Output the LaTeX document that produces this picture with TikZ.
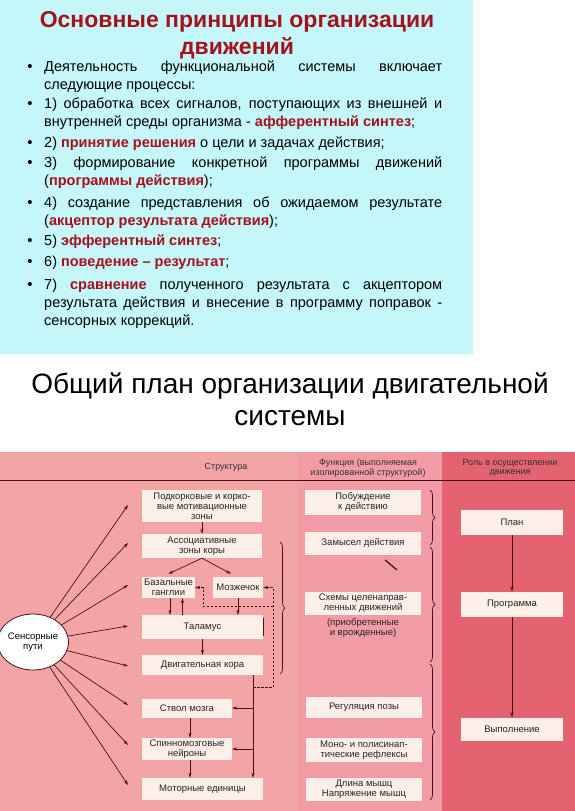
\documentclass[tikz,border=0pt]{standalone}
\usepackage{fontspec}
\setmainfont{Liberation Sans}
\usetikzlibrary{arrows.meta,shapes.geometric,decorations.pathreplacing}

\definecolor{panelcyan}{RGB}{197,246,250}
\definecolor{titlered}{RGB}{165,18,28}
\definecolor{colone}{RGB}{243,165,165}
\definecolor{coltwo}{RGB}{241,155,165}
\definecolor{colthree}{RGB}{229,98,112}
\definecolor{boxfill}{RGB}{252,238,232}
\definecolor{ink}{RGB}{70,18,22}

\newcommand{\redb}[1]{\textcolor{titlered}{\textbf{#1}}}
\hyphenpenalty=10000

\begin{document}
\begin{tikzpicture}[x=1pt,y=-1pt,
	box/.style={fill=boxfill, inner sep=0pt, align=center, text=black!85,
		font=\fontsize{9.5}{10}\selectfont},
	hdr/.style={inner sep=0pt, align=center, text=black!80,
		font=\fontsize{9}{9.5}\selectfont},
	arr/.style={draw=ink, line width=0.7pt, -{Stealth[length=5pt,width=3.2pt]}},
	fback/.style={arr, dash pattern=on 2.5pt off 1.5pt},
	curly/.style={draw=ink, line width=0.7pt, decorate, decoration={brace,amplitude=5pt}},
	item/.style={anchor=north west, inner sep=0pt, text width=398pt, align=justify,
		font=\fontsize{14.5}{18}\selectfont},
	dot/.style={inner sep=0pt, font=\fontsize{15}{15}\selectfont}]

	\useasboundingbox (0,0) rectangle (575,811);

	% upper panel
	\fill[panelcyan] (0,0) rectangle (473,354);
	\node[align=center, text=titlered, font=\bfseries\fontsize{23}{27}\selectfont] (title) at (237,35)
		{Основные принципы организации\\движений};

	\foreach \y in {68,105,144,164,204,242,263,286}{% one bullet per item
		\node[dot] (b\y) at (30,\y) {•};
	}
	\node[item] (p0) at (44,61) {Деятельность функциональной системы включает\linebreak следующие процессы:};
	\node[item] (p1) at (44,98) {1) обработка всех сигналов, поступающих из внешней и\linebreak внутренней среды организма - \redb{афферентный синтез};};
	\node[item] (p2) at (44,137) {2) \redb{принятие решения} о цели и задачах действия;};
	\node[item] (p3) at (44,157) {3) формирование конкретной программы движений\linebreak (\redb{программы действия});};
	\node[item] (p4) at (44,197) {4) создание представления об ожидаемом результате\linebreak (\redb{акцептор результата действия});};
	\node[item] (p5) at (44,235) {5) \redb{эфферентный синтез};};
	\node[item] (p6) at (44,256) {6) \redb{поведение – результат};};
	\node[item] (p7) at (44,279) {7) \redb{сравнение} полученного результата с акцептором\linebreak результата действия и внесение в программу поправок -\linebreak сенсорных коррекций.};

	% second title
	\node[align=center, font=\fontsize{28}{32}\selectfont] (plantitle) at (290,399)
		{Общий план организации двигательной\\системы};

	% the three columns of the scheme
	\fill[colone] (0,452) rectangle (297,811);
	\fill[coltwo] (297,452) rectangle (442,811);
	\fill[colthree] (442,452) rectangle (575,811);
	\draw[ink, line width=0.8pt] (0,480) -- (575,480);
	\node[hdr] (h1) at (226,467) {Структура};
	\node[hdr] (h2) at (368,468) {Функция (выполняемая\\изолированной структурой)};
	\node[hdr] (h3) at (510,468) {Роль в осуществлении\\движения};

	% structure
	\node[box, minimum width=120pt, minimum height=32pt] (podk) at (202,506) {Подкорковые и корко-\\вые мотивационные\\зоны};
	\node[box, minimum width=120pt, minimum height=24pt] (assoc) at (202,546) {Ассоциативные\\зоны коры};
	\node[box, minimum width=53pt, minimum height=21pt] (bazal) at (168.5,587.5) {Базальные\\ганглии};
	\node[box, minimum width=50pt, minimum height=21pt] (mozz) at (238,587.5) {Мозжечок};
	\node[box, minimum width=121pt, minimum height=24pt] (talam) at (202.5,627) {Таламус};
	\node[box, minimum width=121pt, minimum height=20pt] (motor) at (202.5,665) {Двигательная кора};
	\node[box, minimum width=90pt, minimum height=19pt] (stvol) at (187,708) {Ствол мозга};
	\node[box, minimum width=90pt, minimum height=22pt] (spinal) at (187,749) {Спинномозговые\\нейроны};
	\node[box, minimum width=121pt, minimum height=22pt] (units) at (202.5,789) {Моторные единицы};

	\node[ellipse, draw=ink, fill=white, line width=0.8pt, minimum width=66pt, minimum height=56pt,
		inner sep=0pt, align=center, font=\fontsize{9.5}{10.5}\selectfont] (sens) at (33,642) {Сенсорные\\пути};
	\foreach \y [count=\i] in {505,543,585,626,666,705,745,785}{% sensory inputs
		\coordinate (s\i) at (128,\y);
		\draw[arr] (sens) -- (s\i);
	}

	\draw[arr] (podk) -- (assoc);
	\draw[arr] (assoc.south) -- ([yshift=3pt]bazal.north);
	\draw[arr] (assoc.south) -- ([xshift=-7pt,yshift=3pt]mozz.north);
	\draw[arr] ([xshift=1.5pt]bazal.south) -- ([xshift=1.5pt]bazal.south |- talam.north);
	\draw[arr] ([xshift=14pt]bazal.south |- talam.north) -- ([xshift=14pt]bazal.south);
	\draw[arr] (mozz.south) -- (mozz.south |- talam.north);
	\draw[arr] (talam) -- (motor);
	\draw[ink, line width=0.9pt] ([yshift=-3pt]talam.north east) -- ([yshift=3pt]talam.south east);
	\draw[arr] ([xshift=3pt]stvol.south) -- ([xshift=3pt]stvol.south |- spinal.north);
	\draw[arr] ([xshift=3pt]spinal.south) -- ([xshift=3pt]spinal.south |- units.north);

	\coordinate (trunk) at ([xshift=50.5pt]motor.south);
	\draw[arr] (trunk) -- (trunk |- units.north);
	\draw[arr] (trunk |- stvol.east) -- (stvol.east);
	\draw[arr] (trunk |- spinal.east) -- (spinal.east);

	\coordinate (fb) at (273,687);% dashed feedback
	\coordinate (fbb) at (203,606);
	\draw[fback] (trunk |- fb) -- (fb) -- (fb |- mozz.east) -- (mozz.east);
	\draw[fback] (fb |- fbb) -- (fbb) -- (fbb |- bazal.east) -- (bazal.east);

	\draw[curly] (280,542) -- (280,674);

	% function
	\node[box, minimum width=116pt, minimum height=25pt] (pob) at (363,502) {Побуждение\\к действию};
	\node[box, minimum width=116pt, minimum height=23pt] (zam) at (363,543) {Замысел действия};
	\node[box, minimum width=116pt, minimum height=23pt] (schem) at (363,603) {Схемы целенаправ-\\ленных движений};
	\node[hdr, text=black!85, font=\fontsize{9.5}{10}\selectfont] (acq) at (363,628) {(приобретенные\\и врожденные)};
	\node[box, minimum width=116pt, minimum height=21pt] (reg) at (364,707) {Регуляция позы};
	\node[box, minimum width=116pt, minimum height=24pt] (mono) at (364,750) {Моно- и полисинап-\\тические рефлексы};
	\node[box, minimum width=116pt, minimum height=23pt] (dlina) at (364,789) {Длина мышц\\Напряжение мышц};
	\draw[ink, line width=1.3pt] (385,560) -- (397,570);

	\draw[curly] (430,490) -- (430,545);
	\draw[curly] (430,547) -- (430,662);
	\draw[curly] (430,664) -- (430,800);

	% role
	\node[box, minimum width=102pt, minimum height=25pt] (plan) at (512,522) {План};
	\node[box, minimum width=102pt, minimum height=25pt] (prog) at (512,604) {Программа};
	\node[box, minimum width=102pt, minimum height=23pt] (vyp) at (512,729) {Выполнение};
	\draw[arr] (plan) -- (prog);
	\draw[arr] (prog) -- (vyp);
\end{tikzpicture}
\end{document}
